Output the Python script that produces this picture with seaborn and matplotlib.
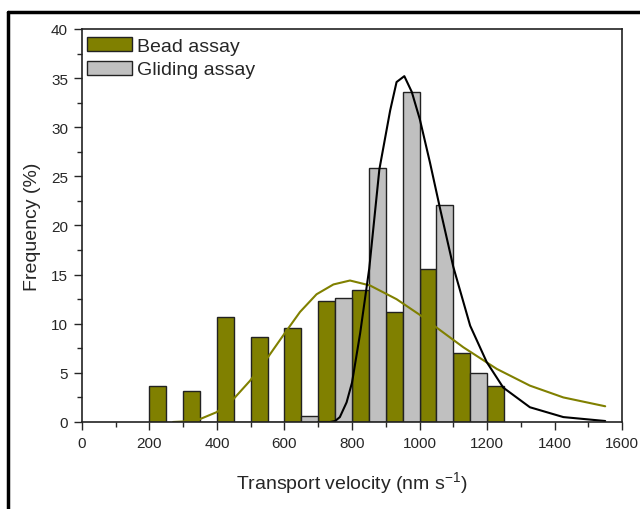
import numpy as np
import pandas as pd
import matplotlib
matplotlib.use("Agg")
import matplotlib.pyplot as plt
from matplotlib.lines import Line2D
from matplotlib.ticker import MultipleLocator
import seaborn as sns

sns.set_style("ticks")
plt.rcParams['font.family'] = ['Liberation Sans', 'DejaVu Sans']
plt.rcParams['mathtext.fontset'] = 'custom'
plt.rcParams['mathtext.rm'] = 'Liberation Sans'

# histogram bars (value read at bar centre, bins of 50 nm/s)
bead_x = [225, 325, 425, 525, 625, 725, 825, 925, 1025, 1125, 1225]
bead_freq = [3.7, 3.2, 10.7, 8.6, 9.6, 12.3, 13.4, 11.2, 15.6, 7.0, 3.7]
glide_x = [675, 775, 875, 975, 1075, 1175]
glide_freq = [0.6, 12.6, 25.9, 33.6, 22.1, 5.0]

# fitted curves
bead_fit_x = [270, 300, 350, 399, 448, 498, 547, 596, 646, 695, 745, 794, 853,
              932, 1001, 1051, 1130, 1229, 1327, 1426, 1550]
bead_fit_y = [0.0, 0.05, 0.3, 1.0, 2.3, 4.2, 6.4, 8.8, 11.2, 13.0, 14.0, 14.4, 13.9,
              12.5, 10.9, 9.6, 7.6, 5.4, 3.7, 2.5, 1.6]
glide_fit_x = [700, 735, 750, 764, 784, 800, 824, 851, 881, 913, 932, 955, 977,
               1001, 1031, 1061, 1100, 1150, 1199, 1248, 1327, 1426, 1550]
glide_fit_y = [0.0, 0.0, 0.1, 0.5, 2.0, 4.0, 9.0, 15.6, 25.7, 31.7, 34.6, 35.2, 33.6,
               30.8, 26.4, 21.7, 15.8, 9.8, 6.1, 3.5, 1.5, 0.5, 0.1]

bead = pd.DataFrame({"v": bead_x, "f": bead_freq})
glide = pd.DataFrame({"v": glide_x, "f": glide_freq})

fig = plt.figure(figsize=(6.4, 5.1), dpi=100)
ax = fig.add_axes([0.128, 0.1706, 0.844, 0.7706])

sns.histplot(data=bead, x="v", weights="f", binwidth=50, binrange=(200, 1250), ax=ax,
             color="#808000", alpha=1, edgecolor="#222222", linewidth=1, label="Bead assay")
sns.histplot(data=glide, x="v", weights="f", binwidth=50, binrange=(650, 1200), ax=ax,
             color="#c0c0c0", alpha=1, edgecolor="#222222", linewidth=1, label="Gliding assay")

sns.lineplot(x=bead_fit_x, y=bead_fit_y, ax=ax, color="#808000", lw=1.5)
sns.lineplot(x=glide_fit_x, y=glide_fit_y, ax=ax, color="black", lw=1.5)

ax.set_xlim(0, 1600)
ax.set_ylim(0, 40)
ax.xaxis.set_major_locator(MultipleLocator(200))
ax.xaxis.set_minor_locator(MultipleLocator(100))
ax.yaxis.set_major_locator(MultipleLocator(5))
ax.yaxis.set_minor_locator(MultipleLocator(2.5))
ax.tick_params(which="major", direction="out", length=6, width=1, labelsize=11, pad=4)
ax.tick_params(which="minor", direction="out", length=3.5, width=1)
for s in ax.spines.values():
    s.set_visible(True)
    s.set_linewidth(1.2)
    s.set_color("#222222")

ax.set_xlabel("Transport velocity (nm s$^{\\mathrm{-1}}$)", fontsize=14, labelpad=14)
ax.set_ylabel("Frequency (%)", fontsize=14, labelpad=7)

ax.legend(loc="upper left", bbox_to_anchor=(0.009, 0.98), frameon=False,
          fontsize=14, handlelength=2.3, handleheight=0.75, handletextpad=0.3,
          labelspacing=0.3, borderpad=0, borderaxespad=0)

# outer frame of the cropped figure
fig.add_artist(Line2D([8 / 640, 1], [1 - 13 / 510, 1 - 13 / 510], color="black", lw=2.5))
fig.add_artist(Line2D([8 / 640, 8 / 640], [0, 1 - 13 / 510], color="black", lw=2.5))

fig.savefig("out.png", dpi=100)
